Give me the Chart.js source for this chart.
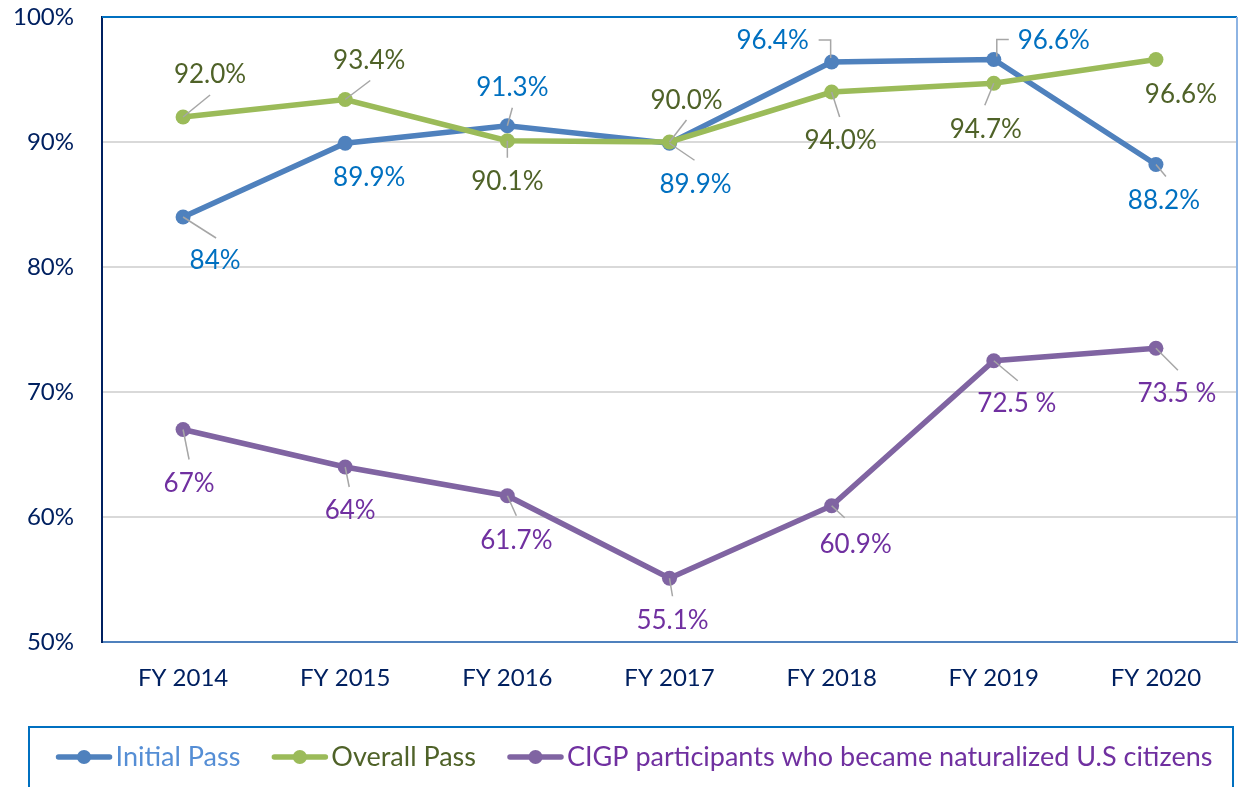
<!DOCTYPE html>
<html>
<head>
<meta charset="utf-8">
<script src="https://cdn.jsdelivr.net/npm/chart.js@4/dist/chart.umd.min.js"></script>
<style>
  html, body { margin: 0; padding: 0; background: #ffffff; }
  #wrap { position: relative; width: 1238px; height: 787px; }
</style>
</head>
<body>
<div id="wrap"><canvas id="c" width="1238" height="787"></canvas></div>
<script>
// ---- data ----
const categories = ['FY 2014', 'FY 2015', 'FY 2016', 'FY 2017', 'FY 2018', 'FY 2019', 'FY 2020'];
const initialPass = [84, 89.9, 91.3, 89.9, 96.4, 96.6, 88.2];
const overallPass = [92.0, 93.4, 90.1, 90.0, 94.0, 94.7, 96.6];
const cigpNaturalized = [67, 64, 61.7, 55.1, 60.9, 72.5, 73.5];
const initialLabels = ['84%', '89.9%', '91.3%', '89.9%', '96.4%', '96.6%', '88.2%'];
const overallLabels = ['92.0%', '93.4%', '90.1%', '90.0%', '94.0%', '94.7%', '96.6%'];
const cigpLabels = ['67%', '64%', '61.7%', '55.1%', '60.9%', '72.5 %', '73.5 %'];
const seriesNames = ['Initial Pass', 'Overall Pass', 'CIGP participants who became naturalized U.S citizens'];
const yTickValues = [50, 60, 70, 80, 90, 100];

// ---- label layout (offsets from each point, in px) ----
const labelLayout = [
  { // Initial Pass
    text: [[32,43],[24,33],[5,-39],[26,40],[-59,-22],[60,-20],[8,35]],
    leader: [[[0,0],[33,21]], null, [[0,0],[5,-18]], [[0,0],[25,17]],
             [[-1,-4],[-1,-22],[-13,-22]], [[3,-3],[3,-20],[15,-20]], [[0,0],[10,12]]]
  },
  { // Overall Pass
    text: [[27,-43],[24,-40],[0,40],[17,-42],[9,48],[-8,45],[25,34]],
    leader: [[[0,0],[27,-22]], [[0,0],[25,-19]], [[0,0],[0,17]], [[0,0],[17,-22]],
             [[0,0],[8,25]], [[0,0],[-9,22]], null]
  },
  { // CIGP
    text: [[6,53],[5,43],[9,44],[3,41],[24,38],[23,42],[21,44]],
    leader: [[[0,0],[6,30]], [[0,0],[4,20]], [[0,0],[9,20]], [[0,0],[3,18]],
             [[0,0],[13,12]], [[0,0],[24,20]], [[0,0],[22,22]]]
  }
];

const FONT = 'Lato, "Open Sans", sans-serif';
const lineColors = ['#4F81BD', '#9BBB59', '#8064A2'];
const labelColors = ['#0070C0', '#4F6228', '#7030A0'];
const legendTextColors = ['#558ED5', '#4F6228', '#7030A0'];
const allLabels = [initialLabels, overallLabels, cigpLabels];

const framePlugin = {
  id: 'frame',
  beforeDatasetsDraw(chart) {
    const { ctx, chartArea: a } = chart;
    ctx.save();
    ctx.lineWidth = 2;
    ctx.strokeStyle = '#0070C0';
    ctx.beginPath(); ctx.moveTo(a.left, a.top); ctx.lineTo(a.right, a.top); ctx.stroke();
    ctx.strokeStyle = '#8EB4E3';
    ctx.beginPath(); ctx.moveTo(a.right, a.top); ctx.lineTo(a.right, a.bottom); ctx.stroke();
    ctx.restore();
  }
};

const labelPlugin = {
  id: 'dataLabels',
  afterDatasetsDraw(chart) {
    const ctx = chart.ctx;
    ctx.save();
    const fs = 26;
    ctx.font = fs + 'px ' + FONT;
    ctx.textAlign = 'center';
    ctx.textBaseline = 'alphabetic';
    chart.data.datasets.forEach((ds, di) => {
      const meta = chart.getDatasetMeta(di);
      const lay = labelLayout[di];
      meta.data.forEach((pt, i) => {
        const ld = lay.leader[i];
        if (ld) {
          ctx.strokeStyle = '#A6A6A6';
          ctx.lineWidth = 1.5;
          ctx.beginPath();
          ld.forEach((p, k) => {
            const x = pt.x + p[0], y = pt.y + p[1];
            if (k === 0) ctx.moveTo(x, y); else ctx.lineTo(x, y);
          });
          ctx.stroke();
        }
        const t = lay.text[i];
        ctx.fillStyle = labelColors[di];
        ctx.fillText(allLabels[di][i], pt.x + t[0], pt.y + t[1] + fs * 0.36);
      });
    });
    ctx.restore();
  }
};

const legendPlugin = {
  id: 'customLegend',
  afterDraw(chart) {
    const ctx = chart.ctx;
    ctx.save();
    ctx.strokeStyle = '#0070C0';
    ctx.lineWidth = 2;
    ctx.strokeRect(29, 727, 1204, 80);
    const fs = 27;
    ctx.font = fs + 'px ' + FONT;
    const lineLen = 57, gapText = 3, gapItem = 31;
    const widths = seriesNames.map(n => lineLen + gapText + ctx.measureText(n).width);
    const total = widths.reduce((a, b) => a + b, 0) + gapItem * (seriesNames.length - 1);
    let x = 634 - total / 2;
    const y = 757;
    seriesNames.forEach((n, i) => {
      ctx.strokeStyle = lineColors[i];
      ctx.lineWidth = 5.5;
      ctx.lineCap = 'round';
      ctx.beginPath(); ctx.moveTo(x + 3, y); ctx.lineTo(x + lineLen - 3, y); ctx.stroke();
      ctx.fillStyle = lineColors[i];
      ctx.beginPath(); ctx.arc(x + lineLen / 2, y, 7, 0, Math.PI * 2); ctx.fill();
      ctx.fillStyle = legendTextColors[i];
      ctx.textBaseline = 'middle';
      ctx.textAlign = 'left';
      ctx.fillText(n, x + lineLen + gapText, y);
      x += widths[i] + gapItem;
    });
    ctx.restore();
  }
};

const mkDs = (label, data, i, order) => ({
  label, data,
  borderColor: lineColors[i],
  backgroundColor: lineColors[i],
  pointBackgroundColor: lineColors[i],
  pointBorderColor: lineColors[i],
  borderWidth: 5.5,
  pointRadius: 7.5,
  pointBorderWidth: 0,
  tension: 0,
  order
});

function zeroPad(s) { s.paddingTop = 0; s.paddingBottom = 0; s.paddingLeft = 0; s.paddingRight = 0; }

new Chart(document.getElementById('c'), {
  type: 'line',
  data: {
    labels: categories,
    datasets: [
      mkDs(seriesNames[0], initialPass, 0, 1),
      mkDs(seriesNames[1], overallPass, 1, 0),
      mkDs(seriesNames[2], cigpNaturalized, 2, 2)
    ]
  },
  options: {
    responsive: false,
    animation: false,
    devicePixelRatio: 1,
    layout: { autoPadding: false, padding: { top: 17, right: 1, left: 0, bottom: 0 } },
    plugins: { legend: { display: false }, tooltip: { enabled: false } },
    scales: {
      x: {
        offset: true,
        grid: { display: false, drawTicks: false },
        border: { color: '#4F81BD', width: 2 },
        ticks: { color: '#002060', font: { family: FONT, size: 24 }, padding: 22, maxRotation: 0 },
        afterFit(s) { s.height = 145; zeroPad(s); }
      },
      y: {
        min: 50, max: 100,
        afterBuildTicks(s) { s.ticks = yTickValues.map(v => ({ value: v })); },
        grid: { color: '#D9D9D9', lineWidth: 2, drawTicks: false },
        border: { color: '#002060', width: 2 },
        ticks: { color: '#002060', font: { family: FONT, size: 24 }, padding: 28,
                 callback: v => v + '%' },
        afterFit(s) { s.width = 102; zeroPad(s); }
      }
    }
  },
  plugins: [framePlugin, labelPlugin, legendPlugin]
});
</script>
</body>
</html>
